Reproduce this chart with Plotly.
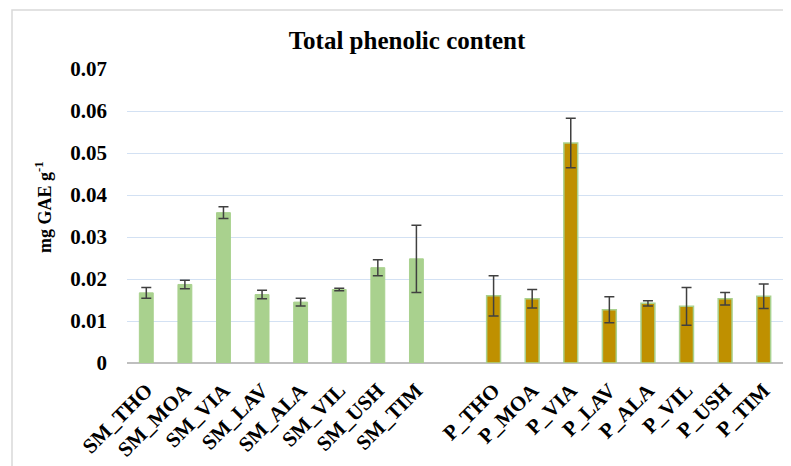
import plotly.graph_objects as go

sm_labels = ["SM_THO", "SM_MOA", "SM_VIA", "SM_LAV", "SM_ALA", "SM_VIL", "SM_USH", "SM_TIM"]
sm_values = [0.0167, 0.0187, 0.0358, 0.0163, 0.0145, 0.0175, 0.0227, 0.0248]
sm_errors = [0.0013, 0.0010, 0.0014, 0.0010, 0.0009, 0.0003, 0.0019, 0.0080]

p_labels = ["P_THO", "P_MOA", "P_VIA", "P_LAV", "P_ALA", "P_VIL", "P_USH", "P_TIM"]
p_values = [0.0160, 0.0153, 0.0524, 0.0127, 0.0142, 0.0135, 0.0153, 0.0159]
p_errors = [0.0048, 0.0022, 0.0059, 0.0031, 0.0006, 0.0045, 0.0015, 0.0029]

gap_label = ["gap"]
category_order = sm_labels + gap_label + p_labels

y_ticks = [0, 0.01, 0.02, 0.03, 0.04, 0.05, 0.06, 0.07]
y_ticktext = ["0", "0.01", "0.02", "0.03", "0.04", "0.05", "0.06", "0.07"]

serif = "Liberation Serif, Times New Roman, serif"
err_style = dict(type="data", visible=True, color="#404040", thickness=1.5, width=5)

fig = go.Figure()
fig.add_trace(go.Bar(
    x=sm_labels, y=sm_values, width=0.36,
    marker=dict(color="#A9D18E", line=dict(color="#A9D18E", width=1)),
    error_y=dict(array=sm_errors, **err_style),
    showlegend=False,
))
fig.add_trace(go.Bar(
    x=gap_label, y=[0], width=0.36,
    marker=dict(color="rgba(0,0,0,0)", line=dict(width=0)),
    showlegend=False, hoverinfo="skip",
))
fig.add_trace(go.Bar(
    x=p_labels, y=p_values, width=0.36,
    marker=dict(color="#BF9000", line=dict(color="#A9D18E", width=1.5)),
    error_y=dict(array=p_errors, **err_style),
    showlegend=False,
))

# The page body has an 8px margin, so the figure sits at (8, 8) in the window.
OFF = 8
W, H = 791 - OFF, 466 - OFF
L, R, T, B = 127 - OFF, 8, 69 - OFF, 103
pw, ph = W - L - R, H - T - B


def px_x(page_x):
    return (page_x - OFF - L) / pw


def px_y(page_y):
    return (T + ph - (page_y - OFF)) / ph


fig.update_layout(
    width=W, height=H,
    margin=dict(l=L, r=R, t=T, b=B),
    paper_bgcolor="white", plot_bgcolor="white",
    barmode="overlay",
    title=dict(text="<b>Total phenolic content</b>", x=px_x(407), xref="paper", xanchor="center",
               y=1 - (40 - OFF) / H, yanchor="middle",
               font=dict(family=serif, size=25, color="black")),
    xaxis=dict(
        type="category", categoryorder="array", categoryarray=category_order,
        tickmode="array", tickvals=sm_labels + p_labels, ticktext=sm_labels + p_labels,
        tickangle=-45, tickfont=dict(family=serif, size=21, color="black", weight="bold"),
        ticklabelstandoff=10,
        showgrid=False, showline=False, ticks="", zeroline=False, automargin=False,
    ),
    yaxis=dict(
        range=[0, 0.07], tickvals=y_ticks, ticktext=y_ticktext,
        tickfont=dict(family=serif, size=21, color="black", weight="bold"),
        showgrid=True, gridcolor="#D3E1F3", gridwidth=1,
        zeroline=True, zerolinecolor="#BFBFBF", zerolinewidth=1.5,
        showline=False, ticks="", ticklabelstandoff=19, automargin=False,
    ),
    annotations=[dict(text="<b>mg GAE g<sup>-1</sup></b>", textangle=-90,
                      xref="paper", yref="paper", x=px_x(43), y=px_y(207),
                      xanchor="center", yanchor="middle", showarrow=False,
                      font=dict(family=serif, size=18, color="black"))],
    shapes=[dict(type="rect", xref="paper", yref="paper",
                 x0=px_x(12), x1=px_x(805), y0=px_y(480), y1=px_y(10),
                 line=dict(color="#D9D9D9", width=1.5), fillcolor="rgba(0,0,0,0)", layer="below")],
)

fig.write_html("out.html")
